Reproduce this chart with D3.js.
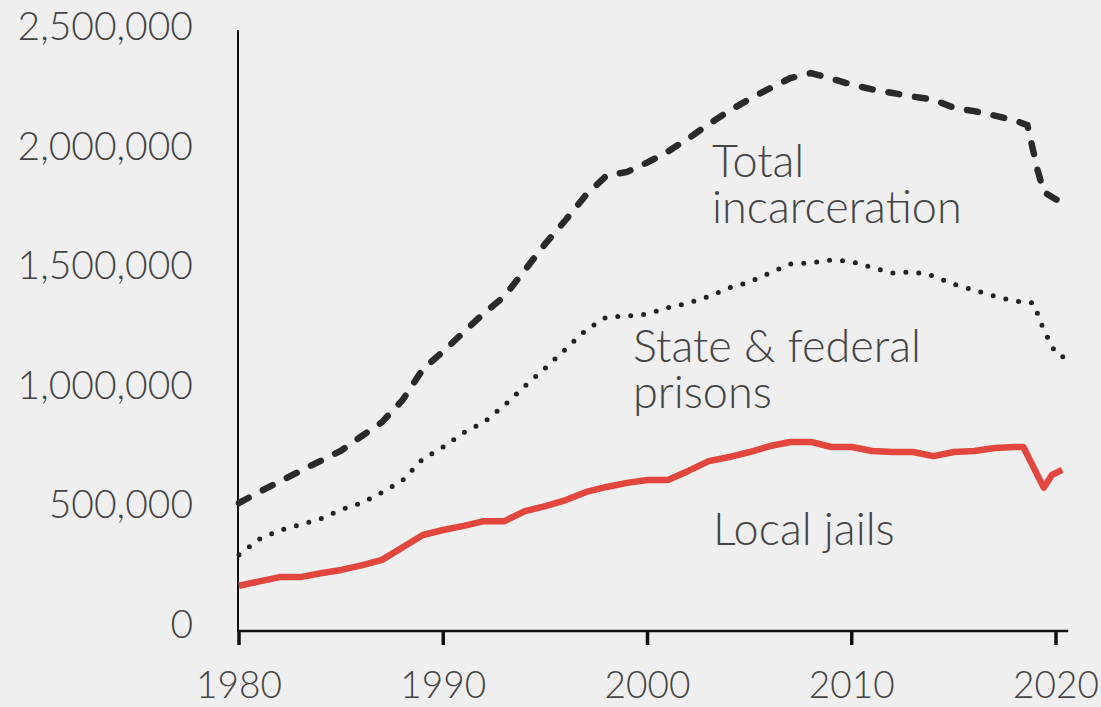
<!DOCTYPE html>
<html>
<meta charset="utf-8">
<style>
  body { margin: 0; background: #efefef; }
  text { font-family: "Lato", "Open Sans", sans-serif; font-weight: 300; fill: #444; }
</style>
<script src="https://d3js.org/d3.v7.min.js"></script>
<body>
<script>
var svgWidth = 1101, svgHeight = 707;

// total incarceration (dashed)
var totalYears = [1980, 1981, 1982, 1983, 1984, 1985, 1986, 1987, 1988, 1989,
  1990, 1991, 1992, 1993, 1994, 1995, 1996, 1997, 1998, 1999,
  2000, 2001, 2002, 2003, 2004, 2005, 2006, 2007, 2008, 2009,
  2010, 2011, 2012, 2013, 2014, 2015, 2016, 2017, 2018, 2018.6, 2019.1, 2019.4, 2020, 2020.5];
var totalValues = [506000, 552000, 596000, 640000, 682000, 725000, 785000, 844000, 935000, 1065000,
  1140000, 1220000, 1300000, 1370000, 1480000, 1590000, 1690000, 1795000, 1875000, 1890000,
  1930000, 1975000, 2030000, 2090000, 2145000, 2195000, 2240000, 2282000, 2303000, 2280000,
  2255000, 2235000, 2220000, 2205000, 2192000, 2158000, 2144000, 2125000, 2105000, 2085000, 1898000, 1806000, 1775000, 1755000];

// state & federal prisons (dotted)
var prisonYears = [1980, 1981, 1982, 1983, 1984, 1985, 1986, 1987, 1988, 1989,
  1990, 1991, 1992, 1993, 1994, 1995, 1996, 1997, 1998, 1999,
  2000, 2001, 2002, 2003, 2004, 2005, 2006, 2007, 2008, 2009,
  2010, 2011, 2012, 2013, 2014, 2015, 2016, 2017, 2018, 2018.9, 2019.4, 2020, 2020.4];
var prisonValues = [290000, 355000, 392000, 415000, 440000, 478000, 506000, 550000, 600000, 690000,
  740000, 800000, 844000, 915000, 995000, 1070000, 1150000, 1230000, 1283000, 1287000,
  1296000, 1322000, 1342000, 1370000, 1405000, 1430000, 1468000, 1505000, 1510000, 1522000,
  1515000, 1490000, 1467000, 1472000, 1455000, 1420000, 1396000, 1370000, 1350000, 1342000, 1229000, 1130000, 1115000];

// local jails (red)
var jailYears = [1980, 1981, 1982, 1983, 1984, 1985, 1986, 1987, 1988, 1989,
  1990, 1991, 1992, 1993, 1994, 1995, 1996, 1997, 1998, 1999,
  2000, 2001, 2002, 2003, 2004, 2005, 2006, 2007, 2008, 2009,
  2010, 2011, 2012, 2013, 2014, 2015, 2016, 2017, 2018, 2018.4, 2019.4, 2019.8, 2020.3];
var jailValues = [160000, 178000, 196000, 196000, 212000, 226000, 245000, 268000, 320000, 372000,
  393000, 410000, 430000, 430000, 472000, 493000, 518000, 552000, 573000, 590000,
  602000, 602000, 640000, 681000, 698000, 719000, 744000, 761000, 761000, 740000,
  740000, 723000, 719000, 719000, 702000, 719000, 723000, 736000, 740000, 740000, 570000, 623000, 644000];

var yTicks = [0, 500000, 1000000, 1500000, 2000000, 2500000];
var xTicks = [1980, 1990, 2000, 2010, 2020];

var svg = d3.select("body")
  .append("svg")
  .attr("width", svgWidth)
  .attr("height", svgHeight);

var x = d3.scaleLinear().domain([1980, 2020]).range([239, 1056]);
var y = d3.scaleLinear().domain([0, 2500000]).range([624, 26]);
var axisY = 631;

// axes lines
svg.append("line")
  .attr("x1", x(1980) - 1).attr("x2", x(1980) - 1)
  .attr("y1", y(2500000) + 4).attr("y2", axisY)
  .attr("stroke", "#111").attr("stroke-width", 2);

svg.append("line")
  .attr("x1", x(1980) - 2).attr("x2", x(2020.6))
  .attr("y1", axisY).attr("y2", axisY)
  .attr("stroke", "#111").attr("stroke-width", 2.5);

svg.selectAll(".xtick")
  .data(xTicks)
  .enter()
  .append("line")
  .attr("class", "xtick")
  .attr("x1", function(d) { return x(d); })
  .attr("x2", function(d) { return x(d); })
  .attr("y1", axisY)
  .attr("y2", axisY + 14)
  .attr("stroke", "#111")
  .attr("stroke-width", 3.5);

svg.selectAll(".xlabel")
  .data(xTicks)
  .enter()
  .append("text")
  .attr("class", "xlabel")
  .attr("x", function(d) { return x(d); })
  .attr("y", 698)
  .attr("text-anchor", "middle")
  .style("font-size", "37px")
  .text(function(d) { return d; });

var fmt = d3.format(",");
svg.selectAll(".ylabel")
  .data(yTicks)
  .enter()
  .append("text")
  .attr("class", "ylabel")
  .attr("x", 193)
  .attr("y", function(d) { return y(d); })
  .attr("dy", "0.36em")
  .attr("text-anchor", "end")
  .style("font-size", "39px")
  .text(function(d) { return fmt(d); });

// lines
var line = d3.line()
  .x(function(d) { return x(d[0]); })
  .y(function(d) { return y(d[1]); });

svg.append("path")
  .datum(d3.zip(jailYears, jailValues))
  .attr("d", line)
  .attr("fill", "none")
  .attr("stroke", "#e2463c")
  .attr("stroke-width", 6.5)
  .attr("stroke-linejoin", "round");

svg.append("path")
  .datum(d3.zip(prisonYears, prisonValues))
  .attr("d", line)
  .attr("fill", "none")
  .attr("stroke", "#222")
  .attr("stroke-width", 5)
  .attr("stroke-linecap", "round")
  .attr("stroke-dasharray", "0,13");

svg.append("path")
  .datum(d3.zip(totalYears, totalValues))
  .attr("d", line)
  .attr("fill", "none")
  .attr("stroke", "#2a2a2a")
  .attr("stroke-width", 6.5)
  .attr("stroke-linecap", "round")
  .attr("stroke-dasharray", "11,16");

// series labels
var labels = [
  { lines: ["Total", "incarceration"], x: 712, y: 177 },
  { lines: ["State & federal", "prisons"], x: 633, y: 362 },
  { lines: ["Local jails"], x: 713, y: 545 }
];

labels.forEach(function(l) {
  var t = svg.append("text")
    .attr("x", l.x)
    .attr("y", l.y)
    .style("font-size", "45px");
  l.lines.forEach(function(s, i) {
    t.append("tspan")
      .attr("x", l.x)
      .attr("dy", i === 0 ? 0 : 46)
      .text(s);
  });
});
</script>
</body>
</html>
